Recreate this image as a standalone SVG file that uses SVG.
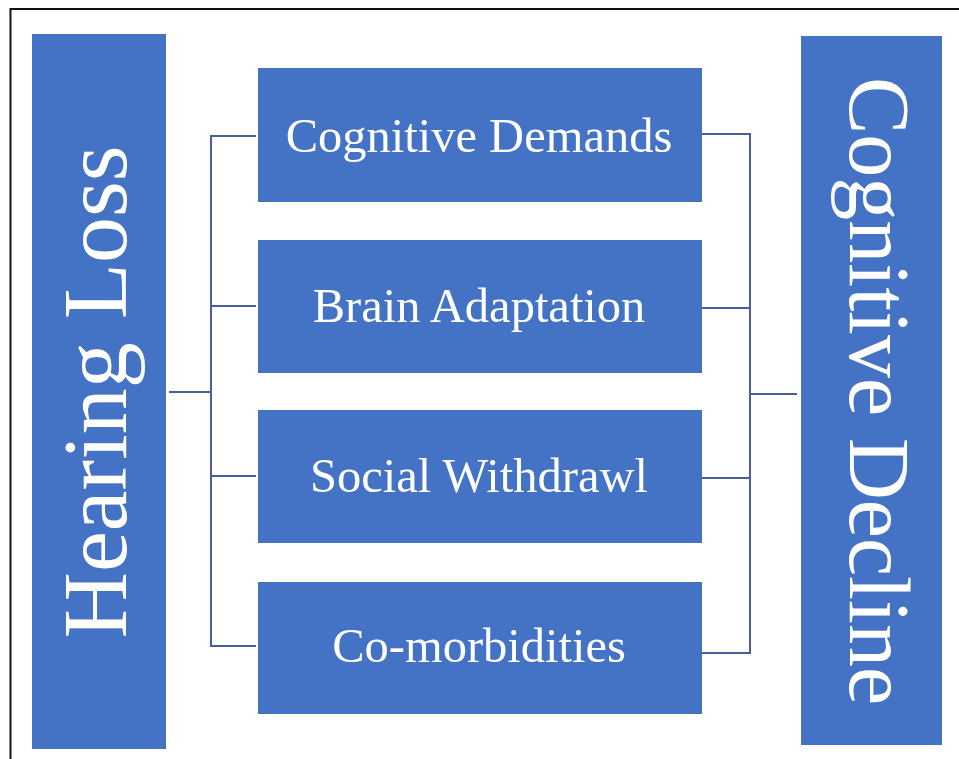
<svg xmlns="http://www.w3.org/2000/svg" width="959" height="759" viewBox="0 0 959 759">
  <style>
    .box { fill: #4472C4; }
    .lbl { fill: #FFFFFF; font-family: "Liberation Serif", "Times New Roman", serif; text-anchor: middle; }
    .mid { font-size: 48.5px; }
    .wire { fill: none; stroke: #4A5E9C; stroke-width: 2; }
  </style>
  <rect width="959" height="759" fill="#FFFFFF"/>
  <!-- frame -->
  <path d="M10.5 759 V9 H959" fill="none" stroke="#111" stroke-width="2"/>

  <!-- connectors -->
  <g id="connectors" class="wire">
    <path d="M169 392 H211"/>
    <path d="M256 136 H211 V646 H256"/>
    <path d="M211 306 H256"/>
    <path d="M211 476 H256"/>
    <path d="M702 134 H750 V653 H702"/>
    <path d="M702 308 H750"/>
    <path d="M702 478 H750"/>
    <path d="M750 394 H797"/>
  </g>

  <g id="hearing-loss">
    <rect class="box" x="32" y="34" width="134" height="715"/>
    <text class="lbl" font-size="92" transform="translate(126 392) rotate(-90)">Hearing Loss</text>
  </g>

  <g id="cognitive-demands">
    <rect class="box" x="258" y="68" width="444" height="134"/>
    <text class="lbl mid" x="479" y="152">Cognitive Demands</text>
  </g>
  <g id="brain-adaptation">
    <rect class="box" x="258" y="240" width="444" height="133"/>
    <text class="lbl mid" x="479" y="322">Brain Adaptation</text>
  </g>
  <g id="social-withdrawl">
    <rect class="box" x="258" y="410" width="444" height="133"/>
    <text class="lbl mid" x="479" y="492">Social Withdrawl</text>
  </g>
  <g id="co-morbidities">
    <rect class="box" x="258" y="582" width="444" height="132"/>
    <text class="lbl mid" x="479" y="662">Co-morbidities</text>
  </g>

  <g id="cognitive-decline">
    <rect class="box" x="801" y="36" width="141" height="709"/>
    <text class="lbl" font-size="86" transform="translate(850 391) rotate(90)">Cognitive Decline</text>
  </g>
</svg>
